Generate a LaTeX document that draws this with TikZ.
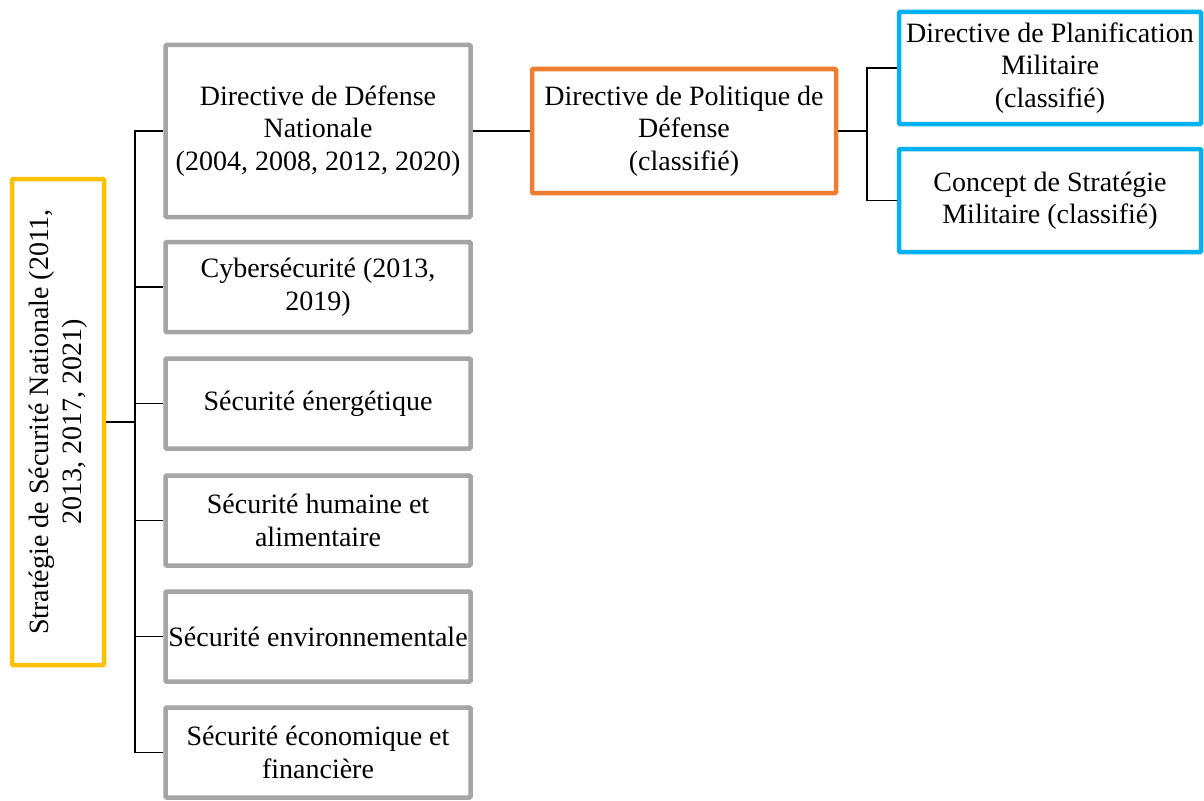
\documentclass[tikz,border=0pt]{standalone}
\usepackage{fontspec}
\setmainfont{Liberation Serif}
\usetikzlibrary{positioning,calc}

\definecolor{boxgray}{HTML}{A5A5A5}
\definecolor{boxorange}{HTML}{ED7D31}
\definecolor{boxyellow}{HTML}{FFC000}
\definecolor{boxblue}{HTML}{00B0F0}

\begin{document}
\begin{tikzpicture}[
    x=1pt, y=-1pt,
    font=\fontsize{28}{32.5}\selectfont,
    box/.style={draw, line width=4.5pt, rounded corners=1pt, inner sep=2pt, align=center, fill=white},
    theme/.style={box, draw=boxgray, minimum width=305pt, minimum height=90pt},
    link/.style={draw, line width=1.4pt},
    mainlink/.style={draw, line width=2.6pt}
]
\useasboundingbox (0,0) rectangle (1204,800);

% National strategy (rotated)
\node[box, draw=boxyellow, rotate=90, minimum width=486pt, minimum height=92pt] (strat) at (58,422) {Stratégie de Sécurité Nationale (2011,\\2013, 2017, 2021)};

% Sectoral strategies
\node[theme, minimum height=172pt] (g1) at (318,131) {Directive de Défense\\Nationale\\(2004, 2008, 2012, 2020)};
\node[theme] (g2) at (318,287) {Cybersécurité (2013,\\2019)};
\node[theme] (g3) at (318,403.5) {Sécurité énergétique};
\node[theme] (g4) at (318,520.5) {Sécurité humaine et\\alimentaire};
\node[theme] (g5) at (318,636.5) {\makebox[0pt]{Sécurité environnementale}};
\node[theme] (g6) at (318,752.5) {Sécurité économique et\\financière};

% Defence policy
\node[box, draw=boxorange, minimum width=304pt, minimum height=124pt] (policy) at (684,131) {Directive de Politique de\\Défense\\(classifié)};

% Military documents
\node[box, draw=boxblue, minimum width=302pt, minimum height=112pt] (plan) at (1050,68) {Directive de Planification\\Militaire\\(classifié)};
\node[box, draw=boxblue, minimum width=302pt, minimum height=103pt] (concept) at (1050,200.5) {Concept de Stratégie\\Militaire (classifié)};

% Spines
\coordinate (spine) at (135,0);
\coordinate (spine2) at (867,0);

% Links strategy -> themes
\draw[mainlink] (strat.south) -- (strat.south -| spine);
\draw[link] (g1.west) -- (g1.west -| spine) -- (g6.west -| spine) -- (g6.west);
\foreach \n in {g2,g3,g4,g5}
  \draw[link] (\n.west) -- (\n.west -| spine);

% Links defence -> policy -> military
\draw[link] (g1.east) -- (policy.west);
\draw[link] (policy.east) -- (policy.east -| spine2);
\draw[link] (plan.west) -- (plan.west -| spine2) -- (concept.west -| spine2) -- (concept.west);

\end{tikzpicture}
\end{document}
